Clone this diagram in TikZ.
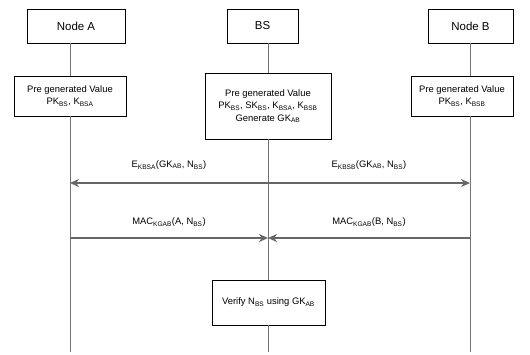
\documentclass[tikz,border=0pt]{standalone}
\usepackage{fontspec}
\setmainfont{Liberation Sans}
\usetikzlibrary{arrows.meta,positioning}

\begin{document}
\begin{tikzpicture}[x=1pt,y=-1pt,>={Stealth[length=9pt,width=8pt]},
                    entity/.style={draw,fill=white,line width=0.9pt,minimum height=34pt,
                                   font=\fontsize{11.5}{13}\selectfont},
                    box/.style={draw,fill=white,line width=0.9pt,align=center,inner sep=2pt,
                                font=\fontsize{9.4}{12.5}\selectfont},
                    life/.style={black!55,line width=0.9pt},
                    msg/.style={black!60,line width=1.7pt},
                    lbl/.style={text=black,font=\fontsize{9.4}{10}\selectfont}]
  \useasboundingbox (0,0) rectangle (530,355);

  % the three parties
  \node[entity,minimum width=98pt] (A)  at (76,26)    {Node A};
  \node[entity,minimum width=71pt] (BS) at (262.5,26) {BS};
  \node[entity,minimum width=85pt] (B)  at (470.5,26) {Node B};

  % lifeline ends
  \coordinate (endA)  at (70,352);
  \coordinate (endBS) at (268,352);
  \coordinate (endB)  at (470,352);

  % key material held by each party
  \node[box,minimum width=112pt,minimum height=40pt] (preA) at (70,96)
        {Pre generated Value\\PK\textsubscript{BS}, K\textsubscript{BSA}};
  \node[box,minimum width=126pt,minimum height=66pt] (preBS) at (268,106)
        {Pre generated Value\\PK\textsubscript{BS}, SK\textsubscript{BS}, K\textsubscript{BSA}, K\textsubscript{BSB}\\Generate GK\textsubscript{AB}};
  \node[box,minimum width=102pt,minimum height=40pt] (preB) at (462,96)
        {Pre generated Value\\PK\textsubscript{BS}, K\textsubscript{BSB}};
  \node[box,minimum width=113pt,minimum height=45pt] (verify) at (268.5,302.5)
        {Verify N\textsubscript{BS} using GK\textsubscript{AB}};

  % lifelines
  \draw[life] (preA.north |- A.south) -- (preA.north)
              (preA.south) -- (endA);
  \draw[life] (BS.south -| preBS.north) -- (preBS.north)
              (preBS.south) -- (verify.north -| preBS.south)
              (verify.south -| endBS) -- (endBS);
  \draw[life] (B.south) -- (B.south |- preB.north)
              (preB.south -| endB) -- (endB);

  % messages
  \coordinate (eA)  at (70,183);
  \coordinate (eBS) at (268,183);
  \coordinate (eB)  at (470,183);
  \coordinate (mA)  at (70,238);
  \coordinate (mBS) at (268,238);
  \coordinate (mB)  at (470,238);

  \draw[msg,<->] (eA) -- (eB);
  \path (eA) -- node[lbl,above=10pt] (e1) {E\textsubscript{KBSA}(GK\textsubscript{AB}, N\textsubscript{BS})} (eBS);
  \path (eBS) -- node[lbl,above=10pt] (e2) {E\textsubscript{KBSB}(GK\textsubscript{AB}, N\textsubscript{BS})} (eB);

  \draw[msg,->] (mA) -- node[lbl,above=7pt] (m1) {MAC\textsubscript{KGAB}(A, N\textsubscript{BS})} (mBS);
  \draw[msg,->] (mB) -- node[lbl,above=7pt] (m2) {MAC\textsubscript{KGAB}(B, N\textsubscript{BS})} (mBS);
\end{tikzpicture}
\end{document}
